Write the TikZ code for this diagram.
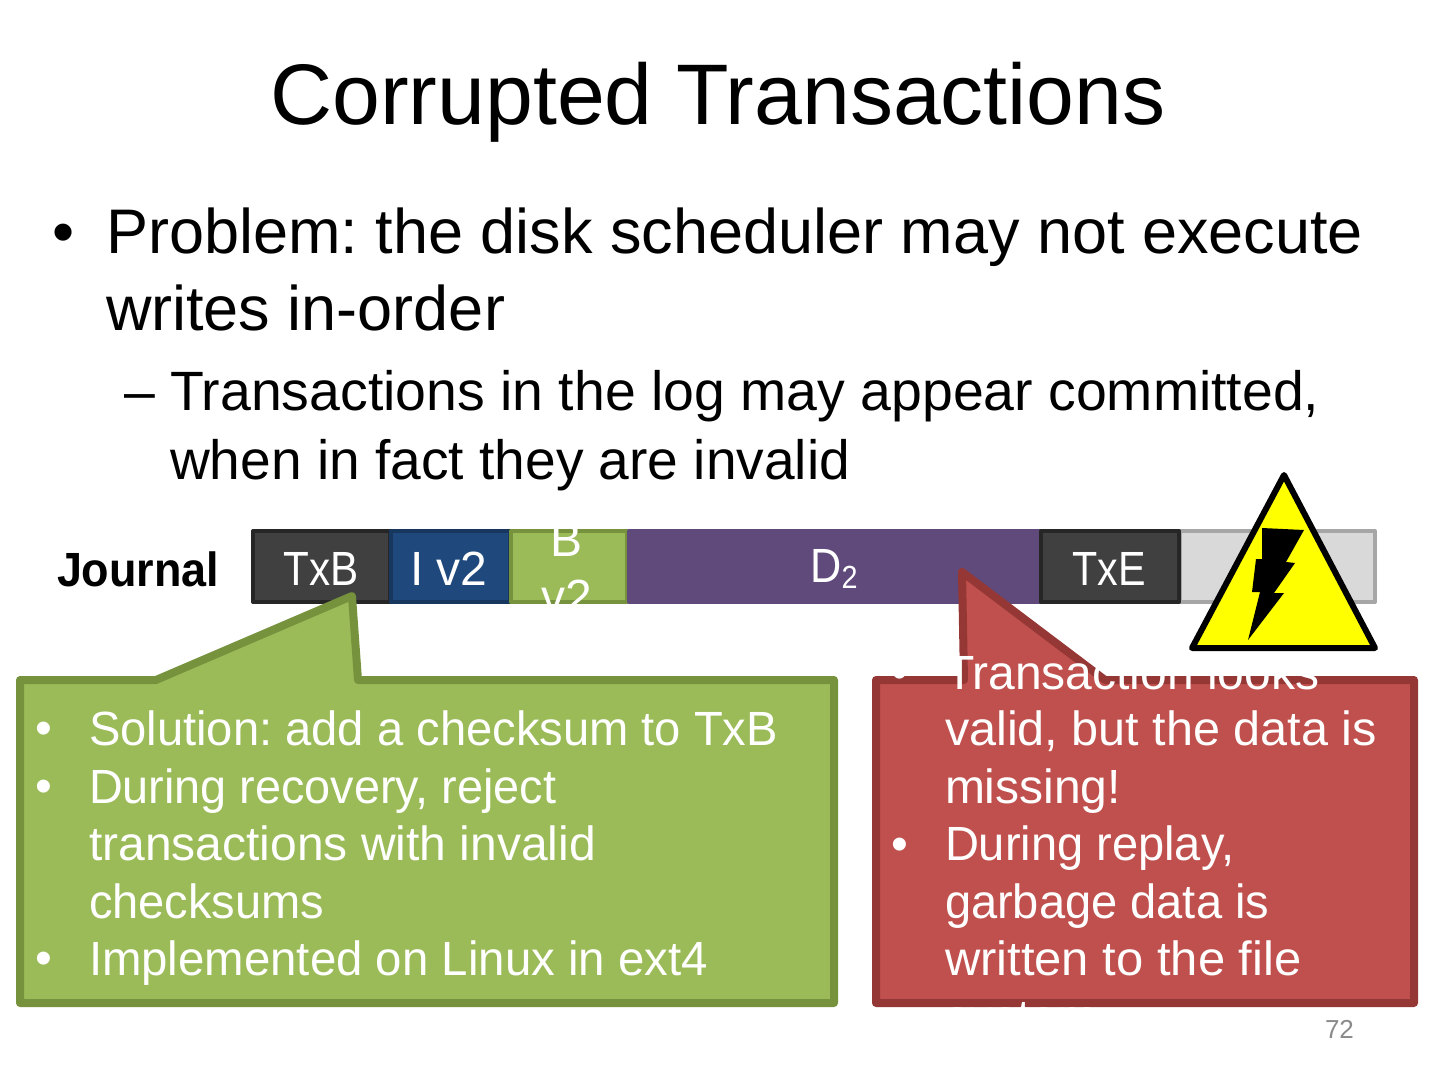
\documentclass[tikz,border=0pt]{standalone}
\usepackage{fontspec}
\setmainfont{Liberation Sans}
\frenchspacing
\definecolor{grn}{HTML}{9BBB59}\definecolor{grnb}{HTML}{76923C}
\definecolor{redf}{HTML}{C0504D}\definecolor{redb}{HTML}{953735}
\definecolor{purp}{HTML}{604A7B}\definecolor{blu}{HTML}{1F497D}\definecolor{blub}{HTML}{17375E}
\definecolor{drk}{HTML}{404040}\definecolor{drkb}{HTML}{262626}
\definecolor{lgr}{HTML}{D9D9D9}\definecolor{lgrb}{HTML}{A6A6A6}
\definecolor{warn}{HTML}{FFFF00}
\tikzset{
 x=0.5pt,y=-0.5pt,
 txt/.style={inner sep=0pt,outer sep=0pt,anchor=base west},
 titletxt/.style={txt,anchor=base,font=\fontsize{43}{43}\selectfont},
 bodytxt/.style={txt,font=\fontsize{31.5}{32}\selectfont},
 subtxt/.style={txt,font=\fontsize{27.7}{28}\selectfont},
 wtxt/.style={txt,text=white,font=\fontsize{24}{24}\selectfont},
 celltxt/.style={inner sep=0pt,anchor=base,text=white,font=\fontsize{24}{24}\selectfont},
 cell/.style={line width=2pt,line join=round},
 callout/.style={line width=4pt,line join=round},
 squeeze/.style={xscale=#1,transform shape},
}
\begin{document}
\begin{tikzpicture}
\useasboundingbox (0,0) rectangle (1440,1080);
\fill[white] (0,0) rectangle (1440,1080);
\node[titletxt] (title) at (718,125) {Corrupted Transactions};
\node[bodytxt] (b0) at (52,254) {•};
\node[bodytxt] (b1) at (106,254) {Problem: the disk scheduler may not execute};
\node[bodytxt] (b2) at (106,331) {writes in-order};
\node[subtxt] (s0) at (124,411) {–};
\node[subtxt] (s1) at (170,411) {Transactions in the log may appear committed,};
\node[subtxt,squeeze=0.995] (s2) at (170,480) {when in fact they are invalid};
\node[txt,squeeze=0.936,font=\fontsize{24}{24}\selectfont\bfseries] (j) at (57,586) {Journal};
% journal
\draw[cell,fill=lgr,draw=lgrb] (1180,531) rectangle (1375,602);
\draw[cell,fill=drk,draw=drkb] (253,531) rectangle (390,602);
\draw[cell,fill=blu,draw=blub] (391,531) rectangle (510,602);
\draw[cell,fill=grn,draw=grnb] (511,531) rectangle (627,602);
\draw[cell,fill=purp,draw=purp] (629,531) rectangle (1040,602);
\draw[cell,fill=drk,draw=drkb] (1041,531) rectangle (1179,602);
\node[celltxt,squeeze=0.88] (txb) at (321,585) {TxB};
\node[celltxt] (iv) at (449,585) {I v2};
\node[celltxt] (bb) at (567,556) {B};
\node[celltxt] (bv) at (567,613) {v2};
\node[celltxt,squeeze=0.9] (d) at (834,582) {D\raisebox{-0.25ex}{\fontsize{16}{16}\selectfont 2}};
\node[celltxt,squeeze=0.86] (txe) at (1109,585) {TxE};
% warning
\draw[fill=warn,draw=black,line width=3pt,line join=round] (1284,475) -- (1375,648) -- (1192,648) -- cycle;
\fill[black] (1262,528) -- (1304,530) -- (1286,562) -- (1295,563) -- (1274,593) -- (1284,593) -- (1248,640) -- (1260,592) -- (1252,592) -- (1256,559) -- (1262,559) -- cycle;
% callouts
\draw[callout,fill=grn,draw=grnb] (20,680) -- (156,680) -- (352,596) -- (358,680) -- (834,680) -- (834,1003) -- (20,1003) -- cycle;
\draw[callout,fill=redf,draw=redb] (876,680) -- (964,680) -- (962,572) -- (1105,680) -- (1414,680) -- (1414,1003) -- (876,1003) -- cycle;
\foreach \n/\y in {1/744,2/802,5/974}{\node[wtxt] (gb\n) at (35,\y) {•};}
\node[wtxt,squeeze=0.982] (g1) at (89,745) {Solution: add a checksum to TxB};
\node[wtxt,squeeze=0.975] (g2) at (89,803) {During recovery, reject};
\node[wtxt] (g3) at (89,860) {transactions with invalid};
\node[wtxt,squeeze=0.98] (g4) at (89,918) {checksums};
\node[wtxt,squeeze=0.987] (g5) at (89,975) {Implemented on Linux in ext4};
\foreach \n/\y in {1/688,2/860}{\node[wtxt] (rb\n) at (891,\y) {•};}
\node[wtxt] (r1) at (945,689) {Transaction looks};
\node[wtxt,squeeze=1.012] (r2) at (945,745) {valid, but the data is};
\node[wtxt] (r3) at (945,803) {missing!};
\node[wtxt,squeeze=0.98] (r4) at (945,860) {During replay,};
\node[wtxt,squeeze=0.98] (r5) at (945,918) {garbage data is};
\node[wtxt,squeeze=1.02] (r6) at (945,975) {written to the file};
\node[wtxt] (r7) at (945,1033) {system};
\node[txt,text=black!46,font=\fontsize{13}{13}\selectfont] (pg) at (1325,1038) {72};
\end{tikzpicture}
\end{document}
